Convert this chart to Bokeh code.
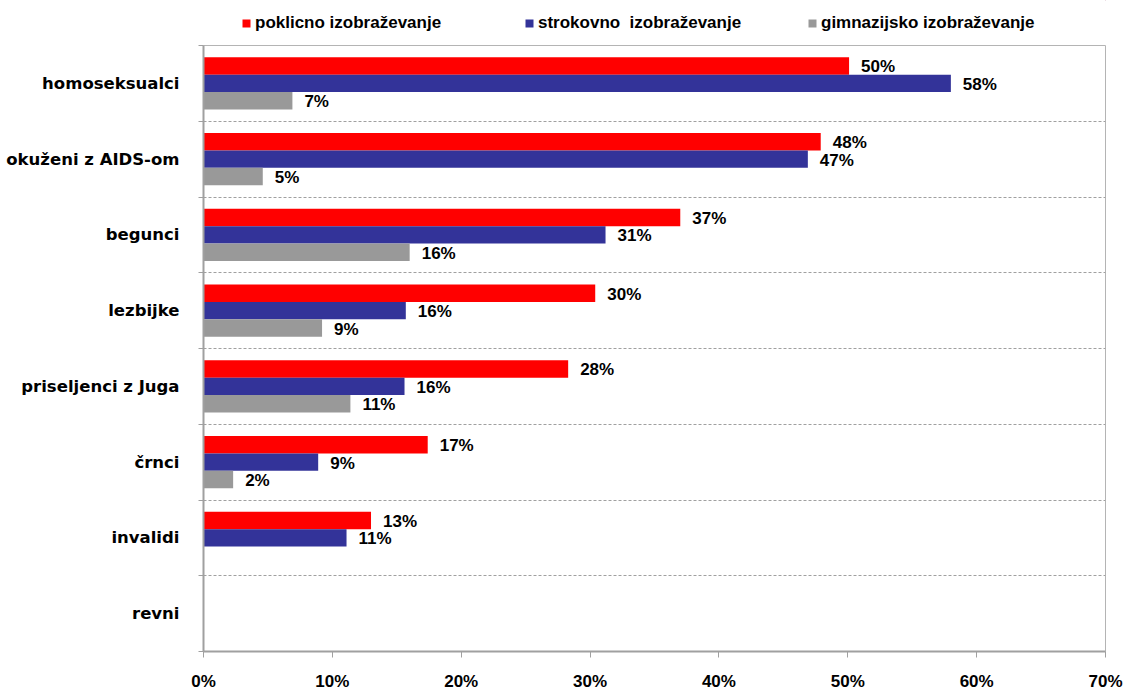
from bokeh.plotting import figure
from bokeh.layouts import column
from bokeh.models import Range1d, FixedTicker, PrintfTickFormatter, ColumnDataSource, Legend, LegendItem
from bokeh.core.properties import value
from bokeh.embed import file_html
from bokeh.resources import INLINE

categories = ["homoseksualci", "okuženi z AIDS-om", "begunci", "lezbijke",
              "priseljenci z Juga", "črnci", "invalidi", "revni"]
series_names = ["poklicno izobraževanje", "strokovno  izobraževanje", "gimnazijsko izobraževanje"]
poklicno = [50.1, 47.9, 37.0, 30.4, 28.3, 17.4, 13.0, None]
strokovno = [58.0, 46.9, 31.2, 15.7, 15.6, 8.9, 11.1, None]
gimnazijsko = [6.9, 4.6, 16.0, 9.2, 11.4, 2.3, None, None]
x_ticks = [0, 10, 20, 30, 40, 50, 60, 70]

colors = ["#FF0000", "#333399", "#999999"]
offsets = [0.23, 0.0, -0.23]
bar_h = 0.23

NUM_FONT = "Liberation Sans"
LABEL_FONT = "DejaVu Sans"

n = len(categories)
centers = [n - 1 - k for k in range(n)]

# ---------------- legend strip (frame aligned with the chart's frame) ----------------
lg = figure(width=1127, height=45, x_range=Range1d(0, 1), y_range=Range1d(0, 1),
            x_axis_type=None, y_axis_type=None, output_backend="svg", toolbar_location=None,
            min_border_left=203, min_border_right=22, min_border_top=0, min_border_bottom=0)
lg.outline_line_color = None
lg.grid.visible = False
# legend proxies: one bar each, lying fully outside the strip's visible ranges
lg_renderers = [lg.hbar(y=[50], right=[60], left=50, height=0.1, fill_color=c, line_color=None)
                for c in colors]
items = [LegendItem(label=name, renderers=[r]) for r, name in zip(lg_renderers, series_names)]
leg = Legend(items=items, location=(38, 12),
             orientation="horizontal", glyph_width=10, glyph_height=10,
             label_standoff=4, padding=0, margin=0, spacing=24, label_width=245,
             border_line_color=None, background_fill_alpha=0,
             label_text_font=NUM_FONT, label_text_font_style="bold",
             label_text_font_size="17px", label_height=20, label_text_color="black")
lg.add_layout(leg, "center")

# ---------------- main chart ----------------
p = figure(width=1127, height=648, x_range=Range1d(0, 70), y_range=Range1d(-0.5, n - 0.5),
           output_backend="svg", toolbar_location=None,
           min_border_left=203, min_border_right=22, min_border_top=0, min_border_bottom=40)

p.outline_line_color = "#B4B4B4"
p.outline_line_width = 1
p.background_fill_color = "white"
p.border_fill_color = "white"

sources = []
for vals, col, off in zip([poklicno, strokovno, gimnazijsko], colors, offsets):
    ys, xs, labs = [], [], []
    for c, v in zip(centers, vals):
        if v is None:
            continue
        ys.append(c + off)
        xs.append(v)
        labs.append(f"{round(v)}%")
    src = ColumnDataSource(dict(y=ys, right=xs, lab=labs))
    p.hbar(y="y", right="right", left=0, height=bar_h, source=src,
           fill_color=col, line_color=None)
    sources.append(src)

for src in sources:
    p.text(x="right", y="y", text="lab", source=src, x_offset=12, y_offset=1,
           text_baseline="middle", text_align="left",
           text_font=value(NUM_FONT), text_font_style="bold",
           text_font_size="17px", text_color="black")

# grid lines at category boundaries
p.xgrid.visible = False
p.ygrid.ticker = FixedTicker(ticks=[c + 0.5 for c in range(n - 1)])
p.ygrid.grid_line_color = "#A0A0A0"
p.ygrid.grid_line_dash = "3 2"
p.ygrid.grid_line_width = 1

# y axis
p.yaxis.ticker = FixedTicker(ticks=centers, minor_ticks=[c - 0.5 for c in range(n + 1)])
p.yaxis.major_label_overrides = {c: name for c, name in zip(centers, categories)}
p.yaxis.major_tick_out = 0
p.yaxis.major_tick_in = 0
p.yaxis.minor_tick_out = 5
p.yaxis.minor_tick_in = 0
p.yaxis.minor_tick_line_color = "#A0A0A0"
p.yaxis.axis_line_color = "#A0A0A0"
p.yaxis.axis_line_width = 2
p.yaxis.major_label_standoff = 19
p.yaxis.major_label_text_font = LABEL_FONT
p.yaxis.major_label_text_font_style = "bold"
p.yaxis.major_label_text_font_size = "16.5px"
p.yaxis.major_label_text_color = "black"

# x axis
p.xaxis.ticker = FixedTicker(ticks=x_ticks)
p.xaxis.formatter = PrintfTickFormatter(format="%d%%")
p.xaxis.major_tick_out = 6
p.xaxis.major_tick_in = 0
p.xaxis.minor_tick_line_color = None
p.xaxis.major_tick_line_color = "#A0A0A0"
p.xaxis.axis_line_color = "#A0A0A0"
p.xaxis.axis_line_width = 2
p.xaxis.major_label_standoff = 14
p.xaxis.major_label_text_font = NUM_FONT
p.xaxis.major_label_text_font_style = "bold"
p.xaxis.major_label_text_font_size = "17px"
p.xaxis.major_label_text_color = "black"

layout = column(lg, p, spacing=0)
open("out.html", "w").write(file_html(layout, INLINE))
